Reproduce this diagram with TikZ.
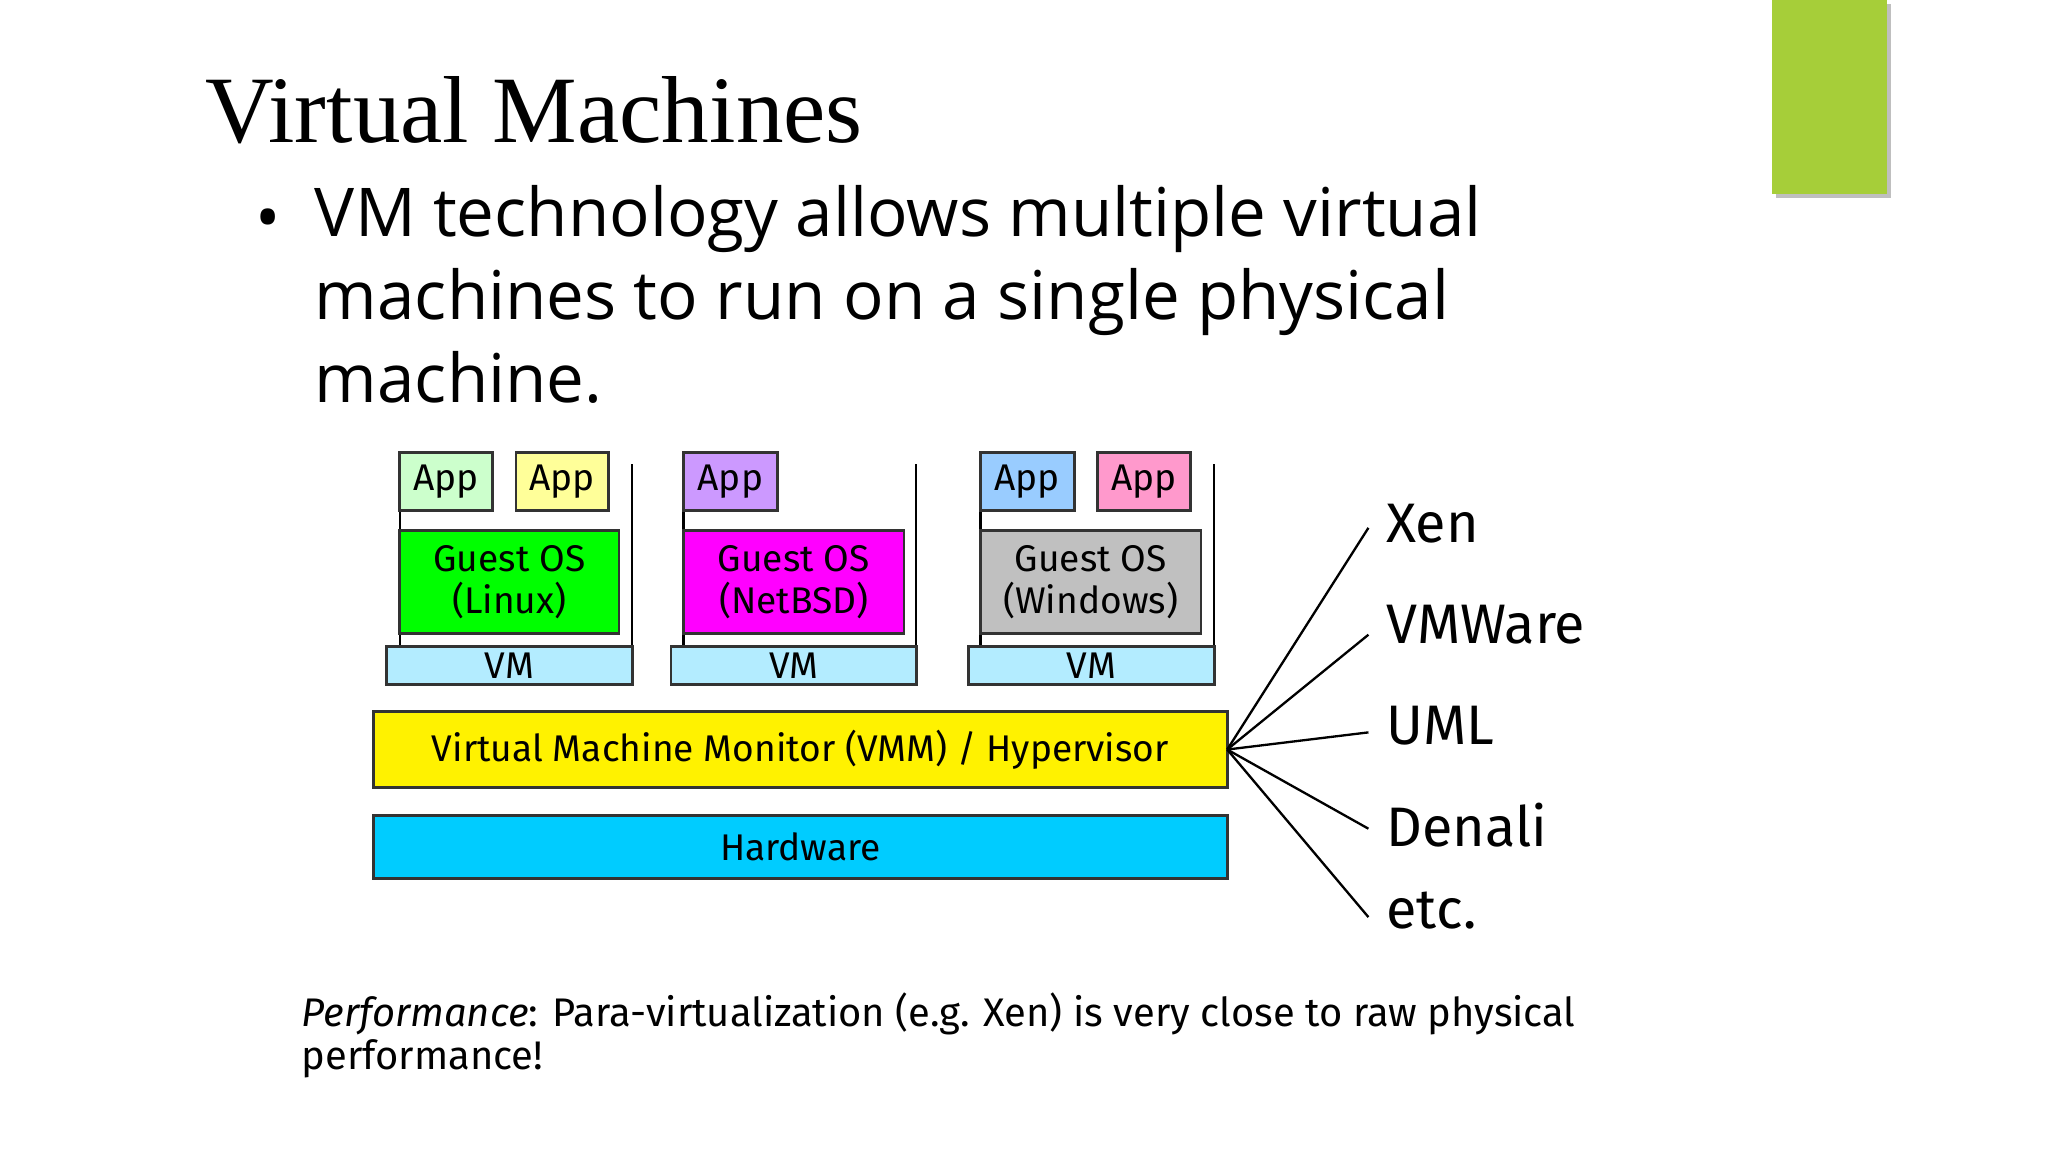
\documentclass[tikz,border=0pt]{standalone}
\usepackage{fontspec}
\setmainfont{Liberation Serif}
\newfontfamily\bul{Open Sans}
\newfontfamily\dia{Fira Sans}
\begin{document}
\begin{tikzpicture}[x=0.01cm,y=-0.01cm,
  bx/.style={draw=black!80,line width=0.6pt,font=\dia\fontsize{8}{9}\selectfont,align=center,inner sep=0},
  lbl/.style={anchor=west,font=\dia\fontsize{12}{14}\selectfont,inner sep=0},
  ln/.style={line width=0.5pt}]
\useasboundingbox (0,0) rectangle (1552,873);
\fill[black!25] (1346,3) rectangle (1433,150);
\fill[fill={rgb,255:red,166;green,206;blue,57}] (1343,0) rectangle (1430,147);
\node[anchor=base west,inner sep=0,font=\fontsize{20.5}{24}\selectfont] (title) at (155,108) {Virtual Machines};
\node[anchor=base west,inner sep=0,font=\bul\fontsize{14.5}{18}\selectfont] (bul) at (193,183) {•};
\node[anchor=north west,inner sep=0,align=left,font=\bul\fontsize{14.5}{17.9}\selectfont] (btxt) at (238,140) {VM technology allows multiple virtual\\machines to run on a single physical\\machine.};
% frames
\foreach \l/\r in {303/479,518/694,743/920}{\draw[ln] (\l,352) -- (\l,490); \draw[ln] (\r,352) -- (\r,490);}
\node[bx,fill={rgb,255:red,179;green,236;blue,255},minimum width=1.86cm,minimum height=0.29cm] (vm1) at (386,504.5) {VM};
\node[bx,fill={rgb,255:red,179;green,236;blue,255},minimum width=1.86cm,minimum height=0.29cm] (vm2) at (601.5,504.5) {VM};
\node[bx,fill={rgb,255:red,179;green,236;blue,255},minimum width=1.86cm,minimum height=0.29cm] (vm3) at (827,504.5) {VM};
\node[bx,fill={rgb,255:red,0;green,255;blue,0},minimum width=1.66cm,minimum height=0.78cm] (g1) at (386,441) {Guest OS\\(Linux)};
\node[bx,fill={rgb,255:red,255;green,0;blue,255},minimum width=1.67cm,minimum height=0.78cm] (g2) at (601.5,441) {Guest OS\\(NetBSD)};
\node[bx,fill={rgb,255:red,192;green,192;blue,192},minimum width=1.67cm,minimum height=0.78cm] (g3) at (826.5,441) {Guest OS\\(Windows)};
\node[bx,fill={rgb,255:red,204;green,255;blue,204},minimum width=0.7cm,minimum height=0.44cm] (a1) at (338,365) {App};
\node[bx,fill={rgb,255:red,255;green,255;blue,153},minimum width=0.7cm,minimum height=0.44cm] (a2) at (426,365) {App};
\node[bx,fill={rgb,255:red,204;green,153;blue,255},minimum width=0.71cm,minimum height=0.44cm] (a3) at (553.5,365) {App};
\node[bx,fill={rgb,255:red,153;green,204;blue,255},minimum width=0.71cm,minimum height=0.44cm] (a4) at (778.5,365) {App};
\node[bx,fill={rgb,255:red,255;green,153;blue,204},minimum width=0.7cm,minimum height=0.44cm] (a5) at (867,365) {App};
\node[bx,fill=yellow,minimum width=6.47cm,minimum height=0.58cm] (vmm) at (606.5,568) {Virtual Machine Monitor (VMM) / Hypervisor};
\node[bx,fill={rgb,255:red,0;green,204;blue,255},minimum width=6.47cm,minimum height=0.48cm] (hw) at (606.5,642) {Hardware};
\coordinate (o) at (930,568);
\coordinate (e1) at (1037,400); \coordinate (e2) at (1037,481); \coordinate (e3) at (1037,555);
\coordinate (e4) at (1037,628); \coordinate (e5) at (1037,695);
\foreach \e in {e1,e2,e3,e4,e5} \draw[ln] (o) -- (\e);
\node[lbl] (xen) at (1050,397) {Xen};
\node[lbl] (vmw) at (1050,473) {VMWare};
\node[lbl] (uml) at (1050,550) {UML};
\node[lbl] (den) at (1050,625) {Denali};
\node[lbl] (etc) at (1050,690) {etc.};
\node[anchor=north west,inner sep=0,align=left,font=\dia\fontsize{8.6}{9.1}\selectfont] (perf) at (228,752) {\textit{Performance}: Para-virtualization (e.g. Xen) is very close to raw physical\\performance!};
\end{tikzpicture}
\end{document}
